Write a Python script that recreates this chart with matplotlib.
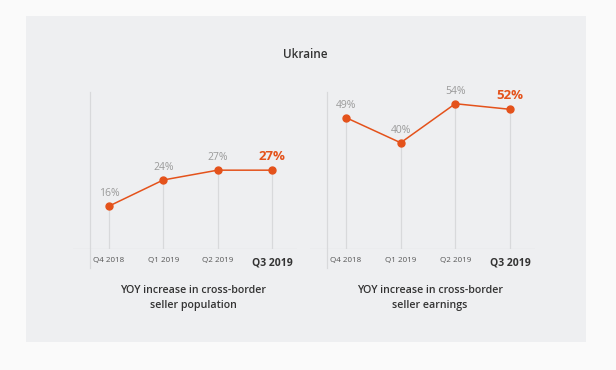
import matplotlib.pyplot as plt

plt.rcParams['font.family'] = ['Open Sans', 'DejaVu Sans']

# dados
quarters = ['Q4 2018', 'Q1 2019', 'Q2 2019', 'Q3 2019']
population = [16, 24, 27, 27]
earnings = [49, 40, 54, 52]
subtitles = ['YOY increase in cross-border\nseller population',
             'YOY increase in cross-border\nseller earnings']

orange = '#e4521b'
grid_c = '#d8d9db'
panel_c = '#eeeff1'

fig = plt.figure(figsize=(6.16, 3.70), dpi=100)
fig.patch.set_facecolor('#fafafa')

# painel cinza de fundo
fig.patches.append(plt.Rectangle((26 / 616, 1 - 342 / 370), 560 / 616, 326 / 370,
                                 transform=fig.transFigure, facecolor=panel_c,
                                 edgecolor='none', zorder=-5))

fig.text(305 / 616, 1 - 55 / 370, 'Ukraine', ha='center', va='center',
         fontsize=8.5, color='#333333', fontweight='semibold')


def draw_panel(rect, values, ylim, subtitle, sub_x):
    ax = fig.add_axes(rect)
    ax.set_facecolor('none')
    x = range(len(values))
    ax.set_xlim(-0.66, 3.46)
    ax.set_ylim(*ylim)
    for s in ax.spines.values():
        s.set_visible(False)

    # linha de base e eixo vertical
    ax.axhline(ylim[0], color=grid_c, lw=0.9, zorder=1)
    ax.axvline(-0.35, ymin=-0.12, ymax=1, color=grid_c, lw=0.9,
               clip_on=False, zorder=1)
    # linhas verticais de cada ponto
    for xi, v in zip(x, values):
        ax.plot([xi, xi], [ylim[0], v], color=grid_c, lw=0.9, zorder=1)

    ax.plot(list(x), values, color=orange, lw=1.1, marker='o', ms=5, zorder=3)

    for xi, v in zip(x, values):
        last = xi == len(values) - 1
        ax.annotate(f'{v}%', (xi, v), xytext=(0, 5 if not last else 5.5),
                    textcoords='offset points', ha='center', va='bottom',
                    fontsize=9.5 if last else 7.5,
                    color=orange if last else '#9a9a9a',
                    fontweight='bold' if last else 'normal')

    ax.set_xticks(list(x))
    ax.set_xticklabels(quarters)
    ax.tick_params(axis='x', length=0, pad=6)
    ax.set_yticks([])
    for i, lab in enumerate(ax.get_xticklabels()):
        if i == len(quarters) - 1:
            lab.set_fontsize(7.5)
            lab.set_fontweight('bold')
            lab.set_color('#333333')
        else:
            lab.set_fontsize(5.8)
            lab.set_color('#555555')

    fig.text(sub_x / 616, 1 - 298 / 370, subtitle, ha='center', va='center',
             fontsize=7.7, color='#333333', fontweight='semibold',
             linespacing=1.5)
    return ax


bottom = 1 - 249 / 370
height = 157 / 370
draw_panel([73 / 616, bottom, 224 / 616, height], population, (2.9, 50.9),
           subtitles[0], 193)
draw_panel([310 / 616, bottom, 225 / 616, height], earnings, (1.9, 58.2),
           subtitles[1], 430)

plt.savefig('out.png', dpi=100, facecolor=fig.get_facecolor())
